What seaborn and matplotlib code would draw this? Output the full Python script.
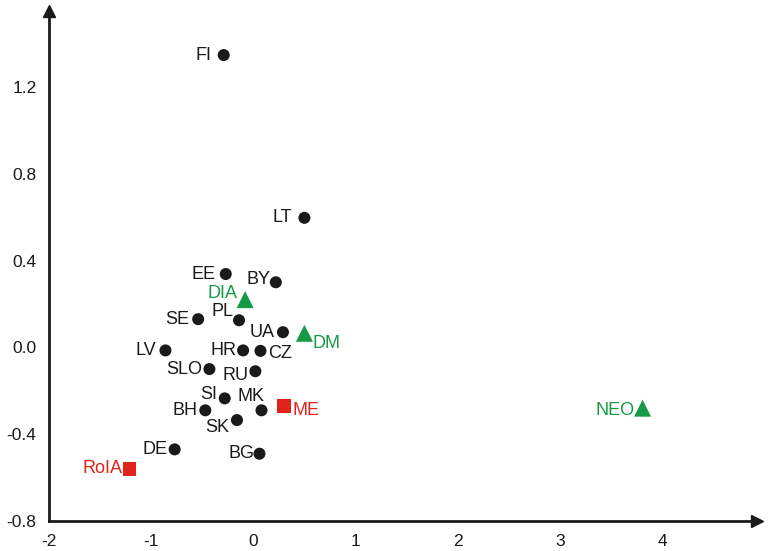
import matplotlib
matplotlib.use("Agg")
import matplotlib.pyplot as plt
import seaborn as sns
import pandas as pd

# countries (black dots)
countries = ["FI", "LT", "EE", "BY", "PL", "SE", "UA", "LV", "HR", "CZ", "SLO",
             "RU", "SI", "MK", "BH", "SK", "DE", "BG"]
countries_x = [-0.29, 0.50, -0.27, 0.22, -0.14, -0.54, 0.29, -0.86, -0.10, 0.07,
               -0.43, 0.02, -0.28, 0.08, -0.47, -0.16, -0.77, 0.06]
countries_y = [1.347, 0.597, 0.338, 0.30, 0.125, 0.13, 0.07, -0.014, -0.014, -0.016,
               -0.10, -0.11, -0.235, -0.29, -0.29, -0.335, -0.47, -0.49]

# green triangles
green_names = ["DIA", "DM", "NEO"]
green_x = [-0.08, 0.50, 3.81]
green_y = [0.22, 0.065, -0.28]

# red squares
red_names = ["RoIA", "ME"]
red_x = [-1.21, 0.30]
red_y = [-0.56, -0.27]

x_ticks = [-2, -1, 0, 1, 2, 3, 4]
y_ticks = [-0.8, -0.4, 0.0, 0.4, 0.8, 1.2]

black = "#1a1a1a"
green = "#159a48"
red = "#e2231a"

sns.set_style("white")
plt.rcParams["font.family"] = ["Liberation Sans", "DejaVu Sans"]

df = pd.concat([
    pd.DataFrame({"name": countries, "x": countries_x, "y": countries_y, "group": "country"}),
    pd.DataFrame({"name": green_names, "x": green_x, "y": green_y, "group": "green"}),
    pd.DataFrame({"name": red_names, "x": red_x, "y": red_y, "group": "red"}),
], ignore_index=True)

fig = plt.figure(figsize=(7.69, 5.51), dpi=100)
ax = fig.add_axes([49 / 769, 30 / 551, (757 - 49) / 769, (521 - 11) / 551])

palette = {"country": black, "green": green, "red": red}
markers = {"country": "o", "green": "^", "red": "s"}
sizes = {"country": 75, "green": 150, "red": 90}
for g, sub in df.groupby("group"):
    sns.scatterplot(data=sub, x="x", y="y", color=palette[g], marker=markers[g],
                    s=sizes[g], edgecolor="none", ax=ax, legend=False, zorder=3)

# label placement in pixels (dx, dy, ha, va)
place = {
    "FI": (-12, 0, "right", "center"), "LT": (-12, 0, "right", "center"),
    "EE": (-10, 0, "right", "center"), "BY": (-5, 3, "right", "center"),
    "DIA": (-8, 6, "right", "center"), "PL": (-6, 9, "right", "center"),
    "SE": (-9, 0, "right", "center"), "UA": (-8, 0, "right", "center"),
    "DM": (8, -10, "left", "center"), "LV": (-9, 0, "right", "center"),
    "HR": (-7, 0, "right", "center"), "CZ": (8, -3, "left", "center"),
    "SLO": (-7, 0, "right", "center"), "RU": (-7, -4, "right", "center"),
    "SI": (-8, 4, "right", "center"), "MK": (3, 14, "right", "center"),
    "BH": (-8, 0, "right", "center"), "ME": (9, -5, "left", "center"),
    "SK": (-8, -7, "right", "center"), "DE": (-7, 0, "right", "center"),
    "BG": (-5, 0, "right", "center"), "RoIA": (-7, 0, "right", "center"),
    "NEO": (-8, -2, "right", "center"),
}
for _, r in df.iterrows():
    dx, dy, ha, va = place[r["name"]]
    ax.annotate(r["name"], (r["x"], r["y"]), xytext=(dx * 0.72, dy * 0.72),
                textcoords="offset points", ha=ha, va=va, fontsize=13,
                color=palette[r["group"]])

ax.set_xlim(-2, 4.93)
ax.set_ylim(-0.8, 1.55)
ax.set_xticks(x_ticks)
ax.set_yticks(y_ticks)
ax.set_xticklabels([str(t) for t in x_ticks])
ax.set_yticklabels([f"{t:.1f}" for t in y_ticks])
ax.set_xlabel("")
ax.set_ylabel("")
ax.tick_params(direction="in", length=3, width=1, color=black, labelsize=12.5,
               labelcolor=black, pad=9)
for s in ["top", "right"]:
    ax.spines[s].set_visible(False)
for s in ["left", "bottom"]:
    ax.spines[s].set_linewidth(2)
    ax.spines[s].set_color(black)

# arrow heads on axes
ax.plot(1, 0, ">", color=black, markersize=9, transform=ax.transAxes, clip_on=False)
ax.plot(0, 1, "^", color=black, markersize=9, transform=ax.transAxes, clip_on=False)

fig.savefig("out.png", dpi=100)
